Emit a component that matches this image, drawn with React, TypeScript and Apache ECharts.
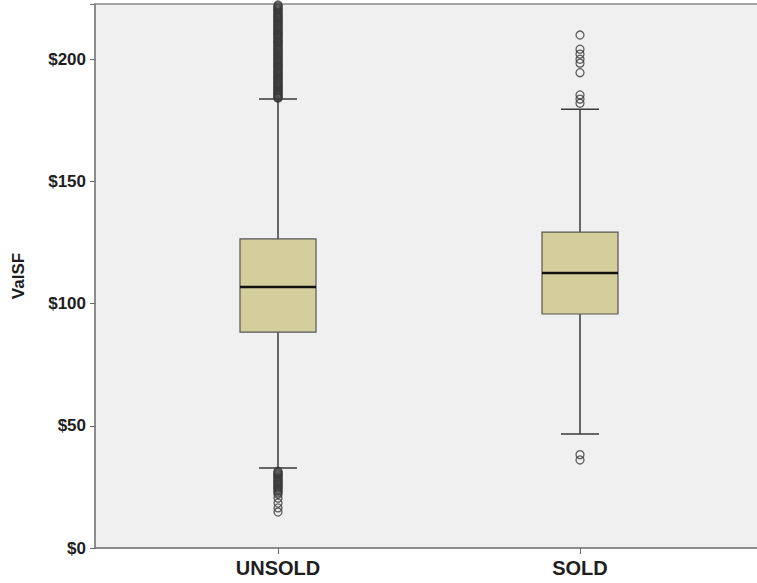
import React, { useEffect, useRef } from "react";
import * as echarts from "echarts";

const categories = ["UNSOLD", "SOLD"];
// [lower whisker, Q1, median, Q3, upper whisker]
const boxStats = [
  [32.7, 88.3, 106.7, 126.4, 183.6],
  [46.6, 95.7, 112.5, 129.2, 179.5],
];
const unsoldHigh = [
  184.0, 184.3, 184.6, 185.0, 185.3, 185.7, 186.1, 186.4, 186.8, 187.1, 187.4, 187.9,
  188.3, 188.6, 189.0, 189.4, 189.9, 190.2, 190.5, 191.0, 191.4, 191.8, 192.2, 192.5,
  192.9, 193.3, 193.8, 194.2, 194.6, 194.9, 195.3, 195.8, 196.2, 196.6, 197.0, 197.3,
  197.7, 198.2, 198.6, 199.0, 199.5, 199.8, 200.1, 200.6, 201.0, 201.4, 201.8, 202.2,
  202.6, 203.0, 203.5, 203.9, 204.3, 204.6, 205.0, 205.5, 205.9, 206.4, 206.8, 207.1,
  207.4, 207.9, 208.3, 208.8, 209.2, 209.6, 210.0, 210.3, 210.7, 211.2, 211.6, 212.0,
  212.5, 212.9, 213.3, 213.7, 214.1, 214.6, 215.0, 215.4, 215.8, 216.3, 216.7, 217.1,
  217.5, 217.8, 218.2, 218.7, 219.1, 219.6, 220.0, 220.4, 220.8, 221.3, 221.7, 222.1,
];
const unsoldLow = [
  31.4, 31.0, 30.6, 30.2, 29.8, 29.3, 28.9, 28.5, 28.0, 27.6, 27.2, 26.8, 26.3, 25.9,
  25.4, 25.0, 24.6, 24.1, 23.7, 23.2, 22.6, 22.0, 20.4, 18.4, 16.4, 14.7,
];
const soldHigh = [181.9, 183.6, 185.3, 194.4, 198.3, 199.9, 202.0, 204.0, 209.8];
const soldLow = [38.2, 36.0];
const yTicks = [0, 50, 100, 150, 200];
const yMax = 222.5;

export default function App() {
  const ref = useRef<HTMLDivElement>(null);
  useEffect(() => {
    if (!ref.current) return;
    const chart = echarts.init(ref.current, null, { renderer: "svg" });
    const outliers: number[][] = [];
    unsoldHigh.forEach((v) => outliers.push([0, v]));
    unsoldLow.forEach((v) => outliers.push([0, v]));
    soldHigh.forEach((v) => outliers.push([1, v]));
    soldLow.forEach((v) => outliers.push([1, v]));
    const boxData = boxStats.map((s, i) => [i, ...s]);
    const axisColor = "#6a6a6a";
    const labelFont = {
      fontFamily: "Liberation Sans, Arial, sans-serif",
      fontWeight: "bold" as const,
      fontSize: 17,
      color: "#1e1e1e",
    };
    const plainAxis = {
      type: "value",
      gridIndex: 1,
      min: 0,
      max: 1,
      axisTick: { show: false },
      axisLabel: { show: false },
      splitLine: { show: false },
    };

    chart.setOption({
      animation: false,
      grid: [
        { left: 127, width: 604, top: 4, bottom: 35 },
        {
          left: 95,
          right: 0,
          top: 4,
          bottom: 35,
          show: true,
          backgroundColor: "#f0f0f0",
          borderWidth: 0,
          z: 0,
        },
      ],
      xAxis: [
        {
          type: "category",
          gridIndex: 0,
          data: categories,
          boundaryGap: true,
          axisLine: { show: false },
          axisTick: { show: true, alignWithLabel: true, length: 6, lineStyle: { color: axisColor } },
          axisLabel: { ...labelFont, fontSize: 20, margin: 10 },
          splitLine: { show: false },
        },
        {
          ...plainAxis,
          position: "bottom",
          axisLine: { show: true, lineStyle: { color: axisColor, width: 1.5 } },
        },
        {
          ...plainAxis,
          position: "top",
          axisLine: { show: true, lineStyle: { color: "#8a8a8a", width: 1.5 } },
        },
      ],
      yAxis: [
        {
          type: "value",
          gridIndex: 0,
          min: 0,
          max: yMax,
          interval: 50,
          show: false,
          splitLine: { show: false },
        },
        {
          type: "value",
          gridIndex: 1,
          min: 0,
          max: yMax,
          interval: 50,
          name: "ValSF",
          nameLocation: "middle",
          nameGap: 68,
          nameTextStyle: { ...labelFont },
          axisLine: { show: true, lineStyle: { color: axisColor, width: 1.5 } },
          axisTick: { show: true, length: 5, lineStyle: { color: axisColor } },
          axisLabel: {
            ...labelFont,
            margin: 9,
            customValues: yTicks,
            formatter: (v: number) => "$" + v,
          },
          splitLine: { show: false },
        },
      ],
      series: [
        {
          type: "custom",
          xAxisIndex: 0,
          yAxisIndex: 0,
          data: boxData,
          z: 3,
          renderItem: (params: any, api: any) => {
            const c = api.value(0);
            const lo = api.coord([c, api.value(1)]);
            const q1 = api.coord([c, api.value(2)]);
            const med = api.coord([c, api.value(3)]);
            const q3 = api.coord([c, api.value(4)]);
            const hi = api.coord([c, api.value(5)]);
            const x = lo[0];
            const bw = 76;
            const ww = 38;
            const whiskerStyle = { stroke: "#3a3a3a", lineWidth: 1.5 };
            return {
              type: "group",
              children: [
                { type: "line", shape: { x1: x, y1: hi[1], x2: x, y2: q3[1] }, style: whiskerStyle },
                { type: "line", shape: { x1: x, y1: q1[1], x2: x, y2: lo[1] }, style: whiskerStyle },
                { type: "line", shape: { x1: x - ww / 2, y1: hi[1], x2: x + ww / 2, y2: hi[1] }, style: whiskerStyle },
                { type: "line", shape: { x1: x - ww / 2, y1: lo[1], x2: x + ww / 2, y2: lo[1] }, style: whiskerStyle },
                {
                  type: "rect",
                  shape: { x: x - bw / 2, y: q3[1], width: bw, height: q1[1] - q3[1] },
                  style: { fill: "#d3ce9c", stroke: "#555", lineWidth: 1.2 },
                },
                {
                  type: "line",
                  shape: { x1: x - bw / 2, y1: med[1], x2: x + bw / 2, y2: med[1] },
                  style: { stroke: "#111", lineWidth: 2.5 },
                },
              ],
            };
          },
        },
        {
          type: "scatter",
          xAxisIndex: 0,
          yAxisIndex: 0,
          data: outliers,
          symbol: "circle",
          symbolSize: 8,
          z: 4,
          itemStyle: { color: "rgba(240,240,240,0)", borderColor: "#3a3a3a", borderWidth: 1.3 },
        },
      ],
    });
    return () => chart.dispose();
  }, []);
  return (
    <div style={{ position: "fixed", left: 0, top: 0, width: 757, height: 583, overflow: "hidden" }}>
      <div ref={ref} style={{ width: 790, height: 583, background: "#fff" }} />
    </div>
  );
}
